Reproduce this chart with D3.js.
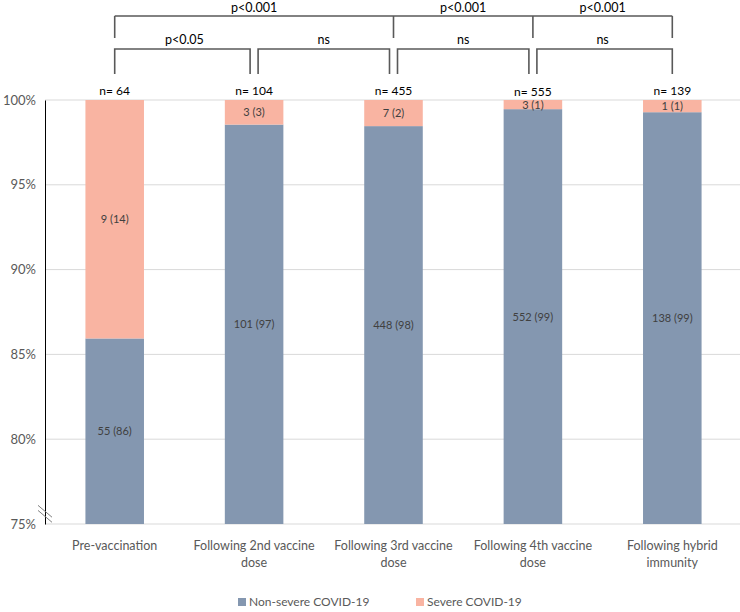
<!DOCTYPE html>
<html><head><meta charset="utf-8">
<script src="https://cdn.jsdelivr.net/npm/d3@7"></script>
<style>body{margin:0;background:#fff;} text{font-family:Lato, "Open Sans", sans-serif;}</style>
</head><body><svg id="c" width="740" height="612"></svg>
<script>
const categories = ["Pre-vaccination", "Following 2nd vaccine dose", "Following 3rd vaccine dose", "Following 4th vaccine dose", "Following hybrid immunity"];
const categoryLines = [["Pre-vaccination"], ["Following 2nd vaccine", "dose"], ["Following 3rd vaccine", "dose"], ["Following 4th vaccine", "dose"], ["Following hybrid", "immunity"]];
const nonSeverePct = [85.94, 98.55, 98.46, 99.46, 99.28];
const severePct = [14.06, 1.45, 1.54, 0.54, 0.72];
const nonSevereLabels = ["55 (86)", "101 (97)", "448 (98)", "552 (99)", "138 (99)"];
const severeLabels = ["9 (14)", "3 (3)", "7 (2)", "3 (1)", "1 (1)"];
const nLabels = ["n= 64", "n= 104", "n= 455", "n= 555", "n= 139"];
const yTicks = [75, 80, 85, 90, 95, 100];
const seriesNames = ["Non-severe COVID-19", "Severe COVID-19"];
const topBrackets = [[0, 2, "p<0.001"], [2, 3, "p<0.001"], [3, 4, "p<0.001"]];
const lowBrackets = [[0, 1, "p<0.05"], [1, 2, "ns"], [2, 3, "ns"], [3, 4, "ns"]];

const colors = ["#8497B0", "#F9B4A2"];
const svg = d3.select("#c");
const x = d3.scaleBand().domain(categories).range([45, 742]).paddingInner(0.58).paddingOuter(0.29);
const y = d3.scaleLinear().domain([75, 100]).range([524, 100]);
const cx = i => x(categories[i]) + x.bandwidth() / 2;

// gridlines
svg.append("g").selectAll("line").data(yTicks).join("line")
  .attr("x1", 45).attr("x2", 740).attr("y1", d => y(d)).attr("y2", d => y(d))
  .attr("stroke", "#D9D9D9").attr("stroke-width", 1);

// y axis
const yAxis = svg.append("g").attr("transform", "translate(45,0)")
  .call(d3.axisLeft(y).tickValues(yTicks).tickFormat(d => d + "%").tickSize(0).tickPadding(9));
yAxis.select(".domain").attr("stroke", "#000").attr("stroke-width", 1);
yAxis.selectAll("text").attr("font-size", 13).attr("fill", "#595959").style("font-family", "Lato, sans-serif");

// bars
const stack = categories.map((c, i) => ({c, i, ns: nonSeverePct[i], sv: severePct[i]}));
svg.append("g").selectAll("rect").data(stack).join("rect")
  .attr("x", d => x(d.c)).attr("width", x.bandwidth())
  .attr("y", d => y(d.ns)).attr("height", d => y(75) - y(d.ns)).attr("fill", colors[0]);
svg.append("g").selectAll("rect").data(stack).join("rect")
  .attr("x", d => x(d.c)).attr("width", x.bandwidth())
  .attr("y", d => y(Math.min(100, d.ns + d.sv))).attr("height", d => y(d.ns) - y(Math.min(100, d.ns + d.sv))).attr("fill", colors[1]);

// bar labels
svg.append("g").selectAll("text").data(stack).join("text")
  .attr("x", d => cx(d.i)).attr("y", d => (y(75) + y(d.ns)) / 2 + 4)
  .attr("text-anchor", "middle").attr("font-size", 11).attr("fill", "#404040")
  .text(d => nonSevereLabels[d.i]);
svg.append("g").selectAll("text").data(stack).join("text")
  .attr("x", d => cx(d.i)).attr("y", d => Math.max((y(100) + y(d.ns)) / 2 + 4, y(100) + 9))
  .attr("text-anchor", "middle").attr("font-size", 11).attr("fill", "#404040")
  .text(d => severeLabels[d.i]);

// n labels
svg.append("g").selectAll("text").data(stack).join("text")
  .attr("x", d => cx(d.i)).attr("y", d => y(100) - 5 + (d.i === 3 ? 1 : 0))
  .attr("text-anchor", "middle").attr("font-size", 12).attr("fill", "#000")
  .text(d => nLabels[d.i]);

// x labels
const xl = svg.append("g").selectAll("text").data(stack).join("text")
  .attr("text-anchor", "middle").attr("font-size", 12.5).attr("fill", "#595959");
xl.each(function(d) {
  d3.select(this).selectAll("tspan").data(categoryLines[d.i]).join("tspan")
    .attr("x", cx(d.i)).attr("y", (t, k) => 550 + k * 17).text(t => t);
});

// axis break marks
const br = svg.append("g").attr("stroke", "#7F7F7F").attr("stroke-width", 1);
br.append("line").attr("x1", 38).attr("y1", y(76.1)).attr("x2", 52).attr("y2", y(75.4));
br.append("line").attr("x1", 38).attr("y1", y(75.8)).attr("x2", 52).attr("y2", y(75.1));

// significance brackets
const bc = "#595959";
const topY = 16, topLeg = 38, lowY = 49, lowLeg = 74;
const tb = svg.append("g");
tb.append("line").attr("x1", cx(0)).attr("x2", cx(4)).attr("y1", topY).attr("y2", topY).attr("stroke", bc).attr("stroke-width", 1.6);
tb.selectAll("line.leg").data([0, 2, 3, 4]).join("line").attr("class", "leg")
  .attr("x1", d => cx(d)).attr("x2", d => cx(d)).attr("y1", topY).attr("y2", topLeg)
  .attr("stroke", bc).attr("stroke-width", 1.6);
tb.selectAll("text").data(topBrackets).join("text")
  .attr("x", d => (cx(d[0]) + cx(d[1])) / 2).attr("y", 12)
  .attr("text-anchor", "middle").attr("font-size", 12.5).attr("fill", "#000").text(d => d[2]);

const lb = svg.append("g");
lowBrackets.forEach(([a, b, t]) => {
  const x1 = cx(a) + (a === 0 ? 0 : 4), x2 = cx(b) - (b === 4 ? 0 : 4);
  lb.append("path").attr("d", `M${x1},${lowLeg}V${lowY}H${x2}V${lowLeg}`)
    .attr("fill", "none").attr("stroke", bc).attr("stroke-width", 1.6);
  lb.append("text").attr("x", (cx(a) + cx(b)) / 2).attr("y", lowY - 5)
    .attr("text-anchor", "middle").attr("font-size", 12.5).attr("fill", "#000").text(t);
});

// legend
const lg = svg.append("g");
const legX = [238, 416];
seriesNames.forEach((s, i) => {
  lg.append("rect").attr("x", legX[i]).attr("y", 598).attr("width", 8).attr("height", 8).attr("fill", colors[i]);
  lg.append("text").attr("x", legX[i] + 11).attr("y", 606).attr("font-size", 12).attr("fill", "#595959").text(s);
});
</script></body></html>
